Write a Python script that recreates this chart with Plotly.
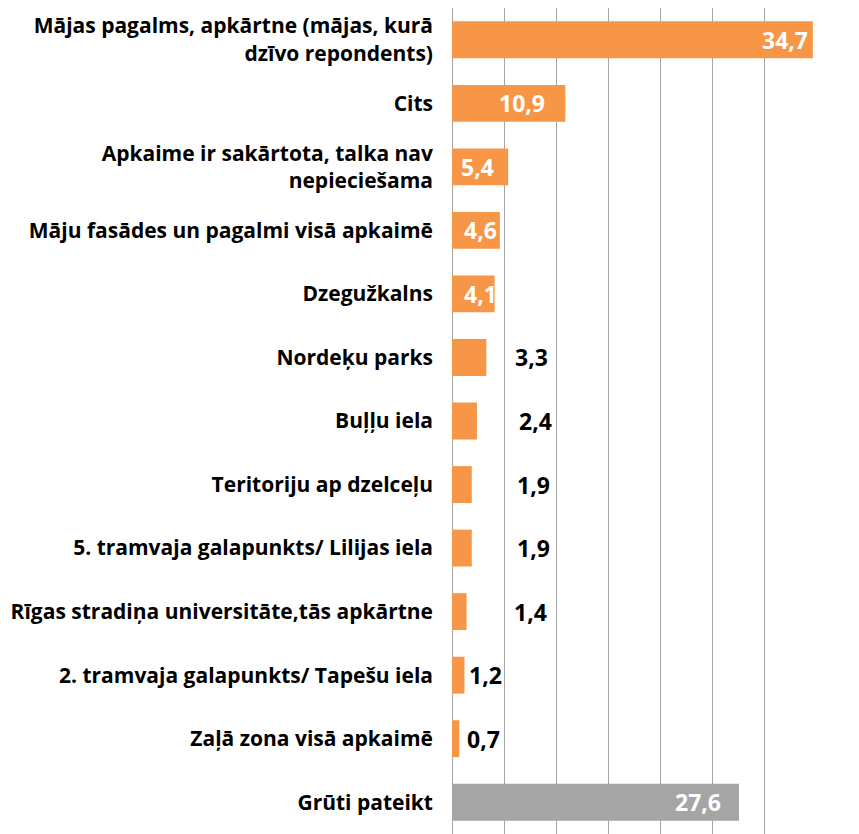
import plotly.graph_objects as go

categories = [
    "Mājas pagalms, apkārtne (mājas, kurā<br>dzīvo repondents)",
    "Cits",
    "Apkaime ir sakārtota, talka nav<br>nepieciešama",
    "Māju fasādes un pagalmi visā apkaimē",
    "Dzegužkalns",
    "Nordeķu parks",
    "Buļļu iela",
    "Teritoriju ap dzelceļu",
    "5. tramvaja galapunkts/ Lilijas iela",
    "Rīgas stradiņa universitāte,tās apkārtne",
    "2. tramvaja galapunkts/ Tapešu iela",
    "Zaļā zona visā apkaimē",
    "Grūti pateikt",
]
values = [34.7, 10.9, 5.4, 4.6, 4.1, 3.3, 2.4, 1.9, 1.9, 1.4, 1.2, 0.7, 27.6]
value_labels = ["34,7", "10,9", "5,4", "4,6", "4,1", "3,3", "2,4", "1,9", "1,9", "1,4", "1,2", "0,7", "27,6"]

ORANGE = "#F79646"
GRAY = "#A5A5A5"
colors = [ORANGE] * 12 + [GRAY]

# label styling: inside (white, right-anchored) or outside (black, left-anchored), pixel shift
label_inside = [True, True, True, True, True, False, False, False, False, False, False, False, True]
label_shift = [-3, -18, -12, -1, 4, 27, 40, 43, 43, 45, 3, 6, -16]

FONT = "Open Sans"

fig = go.Figure(
    go.Bar(
        x=values,
        y=categories,
        orientation="h",
        marker=dict(color=colors, line=dict(width=0)),
        hoverinfo="skip",
    )
)

for c, v, t, ins, sh in zip(categories, values, value_labels, label_inside, label_shift):
    fig.add_annotation(
        x=v, y=c, xref="x", yref="y",
        text=f"<b>{t}</b>",
        showarrow=False,
        xanchor="right" if ins else "left",
        xshift=sh,
        font=dict(family=FONT, size=23, color="white" if ins else "black"),
    )

# the page body adds an 8px offset, so margins compensate for it
fig.update_layout(
    width=851,
    height=826,
    margin=dict(l=444, r=43, t=0, b=0),
    plot_bgcolor="white",
    paper_bgcolor="white",
    bargap=0.42,
    showlegend=False,
    font=dict(family=FONT, size=20, color="black"),
)
fig.update_xaxes(
    range=[0, 35],
    dtick=5,
    showgrid=True,
    gridcolor="#A6A6A6",
    gridwidth=1.3,
    zeroline=True,
    zerolinecolor="#A6A6A6",
    zerolinewidth=1.3,
    showticklabels=False,
    automargin=False,
    fixedrange=True,
)
fig.update_yaxes(
    autorange="reversed",
    tickmode="array",
    tickvals=categories,
    ticktext=[f"<b>{c}</b>" for c in categories],
    tickfont=dict(family=FONT, size=21, color="black"),
    ticklabelstandoff=18,
    showgrid=False,
    automargin=False,
    fixedrange=True,
)

fig.write_html("out.html")
